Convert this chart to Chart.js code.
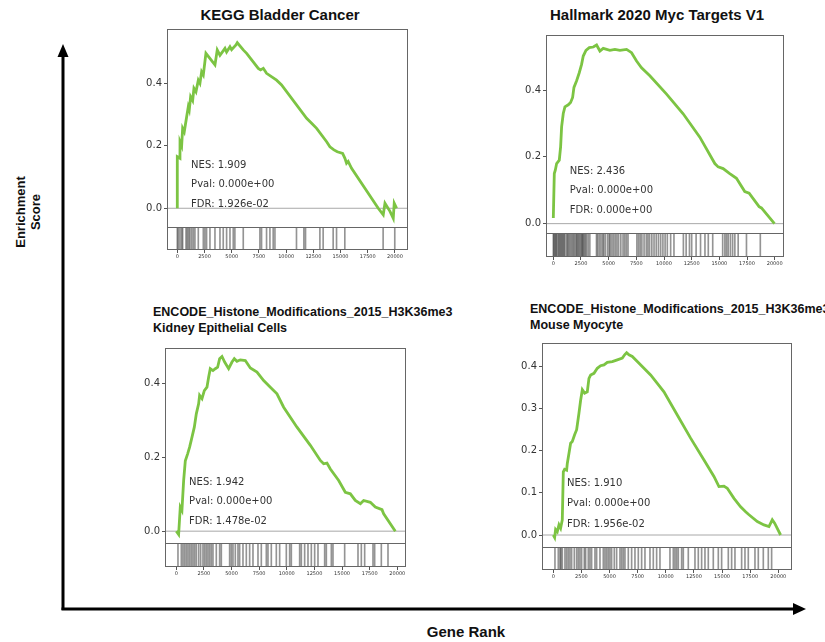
<!DOCTYPE html>
<html>
<head>
<meta charset="utf-8">
<script src="https://cdn.jsdelivr.net/npm/chart.js@4.4.0/dist/chart.umd.min.js"></script>
<style>
body { margin: 0; background: #fff; }
#fig { position: relative; width: 825px; height: 642px; overflow: hidden; font-family: "Liberation Sans", Arial, sans-serif; }
#fig canvas { position: absolute; }
.ttl { position: absolute; font-weight: bold; color: #111; white-space: nowrap; }
.ctr { transform: translateX(-50%); }
</style>
</head>
<body>
<div id="fig">
  <svg width="825" height="642" style="position:absolute;left:0;top:0">
    <line x1="63" y1="610" x2="63" y2="56" stroke="#000" stroke-width="3"/>
    <polygon points="63,44 57.5,57 68.5,57" fill="#000"/>
    <line x1="61.5" y1="609" x2="794" y2="609" stroke="#000" stroke-width="3"/>
    <polygon points="806,609 793,603 793,615" fill="#000"/>
  </svg>
  <div class="ttl" style="left:28px;top:212px;font-size:13px;line-height:15px;text-align:center;transform:translate(-50%,-50%) rotate(-90deg)">Enrichment<br>Score</div>
  <div class="ttl ctr" style="left:466px;top:624px;font-size:15px;line-height:16px">Gene Rank</div>

  <div class="ttl ctr" style="left:280px;top:7px;font-size:15px;line-height:16px">KEGG Bladder Cancer</div>
  <div class="ttl ctr" style="left:657px;top:7px;font-size:15px;line-height:16px">Hallmark 2020 Myc Targets V1</div>
  <div class="ttl" style="left:153px;top:304px;font-size:12.5px;line-height:16px">ENCODE_Histone_Modifications_2015_H3K36me3<br>Kidney Epithelial Cells</div>
  <div class="ttl" style="left:530px;top:302px;font-size:12.5px;line-height:15.5px">ENCODE_Histone_Modifications_2015_H3K36me3<br>Mouse Myocyte</div>

  <canvas id="kegg"></canvas>
  <canvas id="hallmark"></canvas>
  <canvas id="kidney"></canvas>
  <canvas id="myocyte"></canvas>
</div>
<script>
// gene rank ticks shared by all panels
const rankTicks = [0, 2500, 5000, 7500, 10000, 12500, 15000, 17500, 20000];

// KEGG Bladder Cancer
const keggRank = [0, 0, 245, 250, 400, 490, 640, 860, 1010, 1100, 1225, 1410, 1530, 1715, 1930, 2080, 2235, 2390, 2630, 3460, 3670, 3920, 4380, 4530, 4840, 4990, 5390, 5510, 6060, 6370, 7440, 7650, 7900, 8200, 9120, 9580, 11880, 12340, 12800, 13720, 14020, 14390, 14700, 15190, 15400, 15550, 15700, 16010, 18460, 18920, 19080, 19540, 19840, 19930, 20150];
const keggES = [0, 0.165, 0.16, 0.213, 0.2, 0.256, 0.245, 0.293, 0.325, 0.315, 0.357, 0.345, 0.384, 0.373, 0.41, 0.4, 0.437, 0.427, 0.496, 0.459, 0.507, 0.49, 0.512, 0.5, 0.517, 0.508, 0.523, 0.53, 0.507, 0.496, 0.448, 0.443, 0.448, 0.432, 0.41, 0.395, 0.288, 0.272, 0.256, 0.213, 0.197, 0.187, 0.181, 0.176, 0.16, 0.144, 0.15, 0.128, 0, -0.021, 0.016, -0.01, -0.032, 0.016, 0];
const keggHits = [0, 90, 245, 400, 490, 800, 920, 1040, 1160, 1320, 1470, 1620, 1930, 2390, 2540, 2690, 3000, 3460, 3920, 4220, 4530, 4840, 5140, 5290, 6060, 7590, 7740, 8200, 8510, 8810, 8970, 10950, 11630, 11780, 13100, 13400, 14320, 14630, 15390, 18910, 19980];
const keggStats = ['NES: 1.909', 'Pval: 0.000e+00', 'FDR: 1.926e-02'];

// Hallmark 2020 Myc Targets V1
const hallmarkRank = [0, 90, 180, 300, 540, 660, 750, 900, 1050, 1350, 1560, 1745, 1865, 2105, 2345, 2555, 2705, 2950, 3250, 3610, 3910, 4210, 4510, 5110, 5565, 6015, 6620, 7070, 7520, 7970, 8720, 10230, 11730, 13235, 14590, 14890, 15340, 15940, 16545, 17295, 17690, 18590, 18800, 19980];
const hallmarkES = [0.017, 0.15, 0.16, 0.18, 0.19, 0.23, 0.29, 0.33, 0.35, 0.356, 0.363, 0.378, 0.408, 0.428, 0.452, 0.477, 0.502, 0.519, 0.527, 0.529, 0.535, 0.517, 0.525, 0.519, 0.522, 0.519, 0.522, 0.512, 0.487, 0.467, 0.443, 0.388, 0.329, 0.259, 0.18, 0.17, 0.165, 0.15, 0.136, 0.096, 0.091, 0.051, 0.047, 0];
const hallmarkHits = [0, 60, 150, 240, 300, 420, 510, 600, 690, 780, 870, 960, 1050, 1200, 1290, 1380, 1500, 1620, 1740, 1830, 1950, 2070, 2150, 2250, 2350, 2450, 2550, 2620, 2700, 2800, 2900, 3000, 3150, 3300, 3900, 4000, 4150, 4300, 4450, 4550, 4700, 4900, 5050, 5150, 5300, 5450, 5600, 5750, 5900, 6100, 6300, 6450, 6600, 6750, 7550, 7700, 7850, 8000, 8200, 8400, 8550, 8700, 8900, 9100, 9300, 9500, 9700, 9900, 10100, 10300, 10600, 10900, 11750, 12000, 12300, 12500, 12900, 13300, 13700, 14000, 14400, 15300, 15500, 15650, 15800, 16000, 16200, 16400, 16700, 17450, 18700];
const hallmarkStats = ['NES: 2.436', 'Pval: 0.000e+00', 'FDR: 0.000e+00'];

// ENCODE H3K36me3 Kidney Epithelial Cells
const kidneyRank = [0, 210, 360, 510, 665, 815, 1025, 1205, 1420, 1630, 1810, 2020, 2110, 2325, 2535, 2775, 2925, 3075, 3320, 3530, 3740, 3920, 4135, 4375, 4735, 5040, 5250, 5490, 5795, 6245, 6700, 7300, 7905, 8510, 9110, 9715, 10920, 12130, 13035, 13335, 13635, 13940, 14695, 15295, 15750, 16200, 16655, 16955, 17560, 18010, 18615, 18765, 19820];
const kidneyES = [0, -0.009, 0.065, 0.056, 0.137, 0.19, 0.209, 0.227, 0.254, 0.281, 0.317, 0.344, 0.367, 0.358, 0.38, 0.389, 0.416, 0.439, 0.434, 0.439, 0.443, 0.466, 0.472, 0.457, 0.439, 0.457, 0.466, 0.459, 0.463, 0.461, 0.441, 0.43, 0.407, 0.389, 0.371, 0.335, 0.281, 0.232, 0.191, 0.182, 0.184, 0.168, 0.137, 0.105, 0.101, 0.083, 0.074, 0.083, 0.078, 0.065, 0.058, 0.047, 0];
const kidneyHits = [151, 453, 603, 754, 905, 1056, 1207, 1358, 1509, 1659, 1810, 2021, 2202, 2414, 2564, 2715, 2866, 3017, 3168, 3319, 3620, 3922, 4073, 4827, 4978, 5129, 5340, 5581, 5732, 6034, 6336, 6637, 6939, 7392, 7693, 8146, 8297, 8598, 9051, 9353, 9956, 10258, 10409, 11163, 11314, 11615, 11917, 12219, 12521, 12822, 13426, 13577, 14029, 14180, 15236, 16443, 16744, 17046, 17800, 17951, 18554, 19158];
const kidneyStats = ['NES: 1.942', 'Pval: 0.000e+00', 'FDR: 1.478e-02'];

// ENCODE H3K36me3 Mouse Myocyte
const myocyteRank = [0, 120, 205, 355, 505, 650, 800, 890, 1005, 1185, 1245, 1395, 1540, 1690, 1895, 2075, 2280, 2430, 2580, 2785, 3020, 3170, 3320, 3615, 3910, 4205, 4505, 4800, 5245, 5690, 6135, 6340, 6520, 6725, 7020, 7465, 8060, 8650, 9245, 9835, 11020, 12205, 13395, 14280, 14725, 15170, 15465, 16060, 16650, 17095, 17395, 18135, 18725, 19170, 19465, 19675, 20205];
const myocyteES = [0, -0.006, 0.013, 0.008, 0.024, 0.016, 0.036, 0.15, 0.156, 0.154, 0.17, 0.194, 0.218, 0.222, 0.238, 0.25, 0.289, 0.32, 0.345, 0.337, 0.34, 0.372, 0.38, 0.384, 0.396, 0.402, 0.404, 0.41, 0.412, 0.416, 0.42, 0.428, 0.433, 0.428, 0.424, 0.412, 0.396, 0.38, 0.36, 0.34, 0.285, 0.23, 0.178, 0.139, 0.115, 0.116, 0.111, 0.087, 0.067, 0.055, 0.048, 0.032, 0.024, 0.02, 0.036, 0.028, 0];
const myocyteHits = [148, 444, 593, 681, 800, 1037, 1185, 1333, 1481, 1630, 1867, 2074, 2222, 2370, 2519, 2756, 2874, 3111, 3259, 3407, 3704, 3852, 4148, 4444, 4593, 4741, 4889, 5037, 5185, 5422, 5630, 5926, 6074, 6222, 6370, 6667, 6963, 7259, 7556, 7852, 8148, 8593, 8889, 9185, 9481, 10370, 10667, 10815, 10963, 11111, 11407, 11556, 12000, 12593, 12889, 13185, 13481, 13778, 14222, 14667, 14963, 15556, 15852, 16148, 16741, 17037, 17333, 17926, 18222, 18667, 19111, 19407];
const myocyteStats = ['NES: 1.910', 'Pval: 0.000e+00', 'FDR: 1.956e-02'];

const green = '#7cc443';
const tickFont = 'DejaVu Sans';

// zero line under the curve, frames and NES/Pval/FDR text on top
const gseaPlugin = {
  id: 'gsea',
  beforeDatasetsDraw(chart) {
    const {ctx, chartArea, scales} = chart;
    const y0 = scales.y.getPixelForValue(0);
    ctx.save();
    ctx.strokeStyle = '#a8a8a8';
    ctx.lineWidth = 1;
    ctx.beginPath();
    ctx.moveTo(chartArea.left, y0);
    ctx.lineTo(chartArea.right, y0);
    ctx.stroke();
    ctx.restore();
  },
  afterDatasetsDraw(chart, args, opts) {
    const {ctx, chartArea, scales} = chart;
    const w = chartArea.right - chartArea.left;
    ctx.save();
    ctx.strokeStyle = '#666';
    ctx.lineWidth = 1;
    ctx.strokeRect(chartArea.left + 0.5, scales.y.top + 0.5, w - 1, scales.y.bottom - scales.y.top);
    ctx.strokeRect(chartArea.left + 0.5, scales.yHits.top + 0.5, w - 1, scales.yHits.bottom - scales.yHits.top - 1);
    const h = scales.y.bottom - scales.y.top;
    ctx.font = '10px "DejaVu Sans"';
    ctx.fillStyle = '#333';
    ctx.textBaseline = 'alphabetic';
    opts.lines.forEach((t, i) => {
      const frac = 0.1 * (opts.lines.length - i);
      ctx.fillText(t, chartArea.left + 0.1 * w, scales.y.bottom - frac * h);
    });
    ctx.restore();
  }
};

function makePanel(id, box, xr, yr, yTicks, rank, es, hits, stats) {
  const canvas = document.getElementById(id);
  const W = box.right - box.left + 60;
  const H = box.bottom - box.top + 32;
  canvas.width = W;
  canvas.height = H;
  canvas.style.left = (box.left - 50) + 'px';
  canvas.style.top = (box.top - 10) + 'px';
  canvas.style.width = W + 'px';
  canvas.style.height = H + 'px';

  return new Chart(canvas, {
    type: 'line',
    data: {
      datasets: [
        {
          data: rank.map((r, i) => ({x: r, y: es[i]})),
          yAxisID: 'y',
          borderColor: green,
          borderWidth: 2.8,
          pointRadius: 0,
          tension: 0,
          fill: false
        },
        {
          type: 'bar',
          data: hits.map(h => ({x: h, y: 1})),
          yAxisID: 'yHits',
          backgroundColor: 'rgba(0,0,0,0.42)',
          borderWidth: 0,
          barThickness: 1
        }
      ]
    },
    options: {
      responsive: false,
      animation: false,
      devicePixelRatio: 1,
      layout: { padding: { left: 0, right: 10, top: 10, bottom: 0 } },
      plugins: {
        legend: { display: false },
        tooltip: { enabled: false },
        gsea: { lines: stats }
      },
      scales: {
        x: {
          type: 'linear',
          min: xr[0],
          max: xr[1],
          offset: false,
          afterBuildTicks: s => { s.ticks = rankTicks.map(v => ({value: v})); },
          afterFit: s => { s.height = 22; },
          ticks: {
            autoSkip: false, maxRotation: 0, minRotation: 0, padding: 1,
            color: '#333', font: { family: tickFont, size: 5 },
            callback: v => String(v)
          },
          grid: { display: true, drawOnChartArea: false, drawTicks: true, tickLength: 3, color: '#555', offset: false },
          border: { display: false }
        },
        y: {
          type: 'linear',
          position: 'left',
          stack: 'gsea',
          stackWeight: box.sep - box.top,
          weight: 2,
          min: yr[0],
          max: yr[1],
          afterBuildTicks: s => { s.ticks = yTicks.map(v => ({value: v})); },
          afterFit: s => { s.width = 50; },
          ticks: {
            padding: 2, color: '#333', font: { family: tickFont, size: 10 },
            callback: v => v.toFixed(1)
          },
          grid: { display: true, drawOnChartArea: false, drawTicks: true, tickLength: 3, color: '#555' },
          border: { display: false }
        },
        yHits: {
          type: 'linear',
          position: 'left',
          stack: 'gsea',
          stackWeight: box.bottom - box.sep,
          weight: 1,
          min: 0,
          max: 1,
          afterFit: s => { s.width = 50; },
          ticks: { display: false },
          grid: { display: false },
          border: { display: false }
        }
      }
    },
    plugins: [gseaPlugin]
  });
}

makePanel('kegg', {left: 167, right: 408, top: 29, sep: 227, bottom: 250},
  [-946, 21195], [-0.060, 0.574], [0, 0.2, 0.4], keggRank, keggES, keggHits, keggStats);
makePanel('hallmark', {left: 546, right: 784, top: 35, sep: 233, bottom: 257},
  [-660, 20840], [-0.028, 0.565], [0, 0.2, 0.4], hallmarkRank, hallmarkES, hallmarkHits, hallmarkStats);
makePanel('kidney', {left: 165, right: 406, top: 348, sep: 543, bottom: 567},
  [-1023, 20787], [-0.032, 0.495], [0, 0.2, 0.4], kidneyRank, kidneyES, kidneyHits, kidneyStats);
makePanel('myocyte', {left: 542, right: 792, top: 343, sep: 547, bottom: 570},
  [-1004, 21218], [-0.0285, 0.456], [0, 0.1, 0.2, 0.3, 0.4], myocyteRank, myocyteES, myocyteHits, myocyteStats);
</script>
</body>
</html>
